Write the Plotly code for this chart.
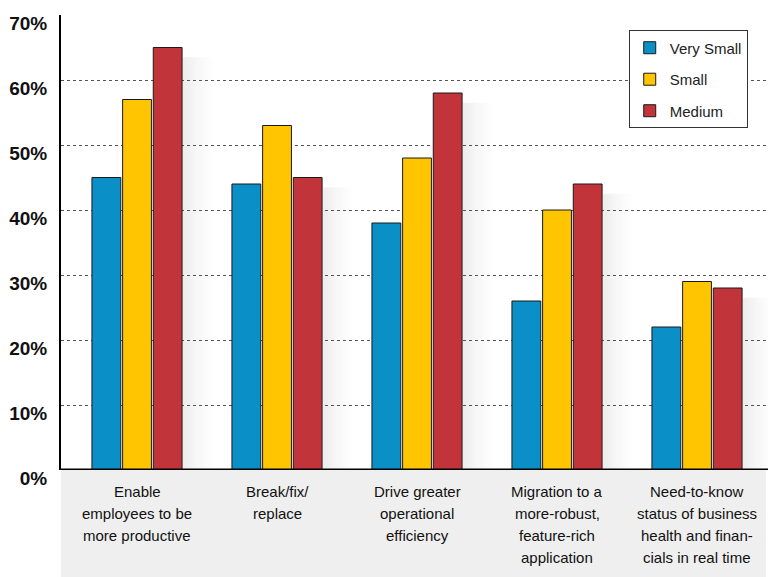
import plotly.graph_objects as go

categories = [
    "Enable<br>employees to be<br>more productive",
    "Break/fix/<br>replace",
    "Drive greater<br>operational<br>efficiency",
    "Migration to a<br>more-robust,<br>feature-rich<br>application",
    "Need-to-know<br>status of business<br>health and finan-<br>cials in real time",
]
series_names = ["Very Small", "Small", "Medium"]
very_small = [45, 44, 38, 26, 22]
small = [57, 53, 48, 40, 29]
medium = [65, 45, 58, 44, 28]
series_values = [very_small, small, medium]
colors = ["#0A8FC7", "#FFC500", "#C1343A"]
y_ticks = [0, 10, 20, 30, 40, 50, 60, 70]
y_tick_labels = ["0%", "10%", "20%", "30%", "40%", "50%", "60%", "70%"]

NARROW = "Liberation Sans Narrow, Arial Narrow, Liberation Sans, sans-serif"
REG = "Liberation Sans, Arial, sans-serif"

x_idx = list(range(len(categories)))
fig = go.Figure()
for name, vals, col in zip(series_names, series_values, colors):
    fig.add_trace(go.Bar(
        x=x_idx, y=vals, name=name, legendgroup=name,
        marker=dict(color=col, line=dict(color="#1a1a1a", width=1)),
        hoverinfo="skip",
    ))

shapes = []
# gray background under category labels
shapes.append(dict(type="rect", xref="paper", yref="paper", x0=0, x1=0.997,
                   y0=-0.236, y1=0, fillcolor="#EFEFEF", line=dict(width=0), layer="below"))
# soft shadows to the right of each group
bargap = 0.343
half_group = (1 - bargap) / 2
for i in x_idx:
    top = medium[i]
    steps = 12
    for s in range(steps):
        x0 = i + half_group + s * 0.018
        op = 0.13 * (1 - s / steps) ** 1.3
        shapes.append(dict(type="rect", xref="x", yref="y", x0=x0, x1=x0 + 0.018,
                           y0=0, y1=top - 1.5, fillcolor="#7a7a7a",
                           opacity=op, line=dict(width=0), layer="below"))

annotations = []
for i, lab in zip(x_idx, categories):
    for j, line in enumerate(lab.split("<br>")):
        annotations.append(dict(x=i, y=0, xref="x", yref="y", text=line,
                                showarrow=False, xanchor="center", yanchor="middle",
                                yshift=-(21 + 22 * j),
                                font=dict(family=NARROW, size=15, color="#111111")))

fig.update_layout(
    width=768, height=577,
    margin=dict(l=61, r=0, t=15, b=107),
    paper_bgcolor="white", plot_bgcolor="white",
    barmode="group", bargap=bargap, bargroupgap=0.06,
    shapes=shapes, annotations=annotations,
    showlegend=True,
    legend=dict(x=0.803, y=0.966, xanchor="left", yanchor="top",
                bgcolor="white", bordercolor="#333333", borderwidth=1,
                font=dict(family=REG, size=15, color="#222222"),
                tracegroupgap=9, traceorder="grouped"),
    xaxis=dict(range=[-0.543, 4.507], tickvals=x_idx, showticklabels=False,
               showgrid=False, zeroline=False, showline=False, ticks="",
               fixedrange=True),
    yaxis=dict(range=[0, 70], tickvals=y_ticks, ticktext=y_tick_labels,
               tickfont=dict(family=NARROW, size=19, color="#111111", weight="bold"),
               showgrid=True, gridcolor="#555555", griddash="3px,3px", gridwidth=1,
               zeroline=False, showline=True, linecolor="black", linewidth=2,
               ticks="", ticklabelstandoff=8, ticklabelshift=8, fixedrange=True),
)
# x baseline
fig.add_shape(type="line", xref="paper", yref="y", x0=0, x1=1, y0=0, y1=0,
              line=dict(color="black", width=3), layer="above")

fig.write_html("out.html")
